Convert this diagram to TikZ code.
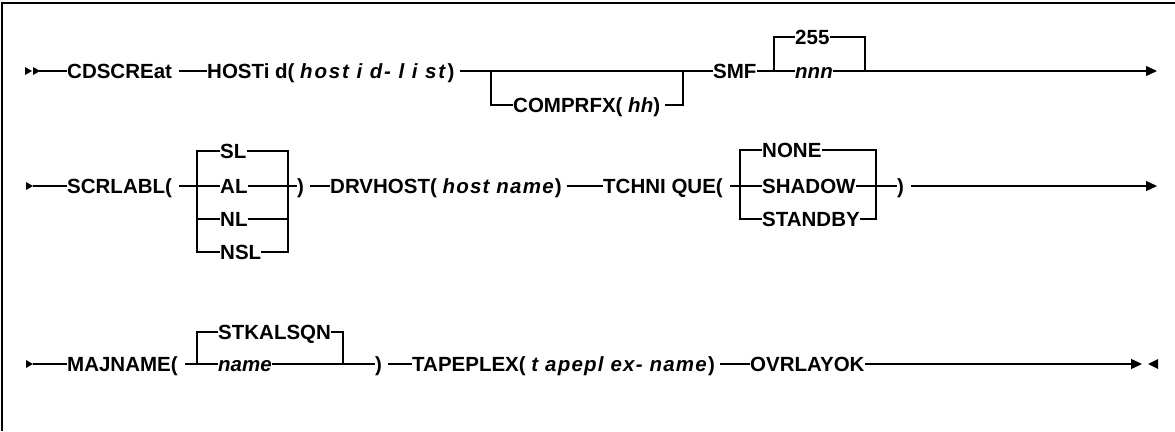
\documentclass[tikz,border=0pt]{standalone}
\usepackage{fontspec}
\setmainfont{Liberation Sans}
\usetikzlibrary{arrows.meta}

% small filled start mark of a rail line
\newcommand{\railstart}[2]{\fill (#1,#2-4) -- (#1+7,#2) -- (#1,#2+4) -- cycle;}
% spread italic variable text
\newcommand{\varspread}[2]{{\addfontfeature{LetterSpace=#1}\textit{#2}}}

\begin{document}
\begin{tikzpicture}[x=1pt, y=-1pt, line join=miter,
  kw/.style={font=\fontsize{20.5}{24}\selectfont\bfseries, inner sep=0pt,
             text height=15pt, text depth=0pt, anchor=west},
  rail/.style={line width=1.2pt},
  ends/.style={rail, -{Triangle[length=11pt, width=10pt]}},
  ]

\useasboundingbox (0,0) rectangle (1175,431);
\draw[line width=1.6pt] (2,431) -- (2,3) -- (1175,3);

% rail heights
\def\ya{71}
\def\yb{186}
\def\yc{364}

% ======================================================================
% ROW 1: CDSCREat HOSTid(...) [COMPRFX(hh)] SMF {255|nnn}
% ======================================================================
\railstart{25}{\ya}
\railstart{33}{\ya}
\coordinate (s1) at (39,\ya);
\node[kw] (cds)  at (67,\ya)  {CDSCREat};
\node[kw] (host) at (207,\ya) {HOSTi d( \varspread{9}{host i d- l i st})};
\node[kw] (comp) at (513,105) {COMPRFX( \textit{hh})};
\node[kw] (smf)  at (713,\ya) {SMF};
\node[kw] (d255) at (795,37)  {255};
\node[kw] (nnn)  at (795,\ya) {\textit{nnn}};
\coordinate (cL) at (491,\ya);
\coordinate (cR) at (683,\ya);
\coordinate (nL) at (774,\ya);
\coordinate (nR) at (865,\ya);
\coordinate (e1) at (1157,\ya);

\draw[rail] (s1) -- (cds.west);
\draw[rail] ([xshift=7pt]cds.east) -- (host.west);
\draw[rail] ([xshift=5pt]host.east) -- (smf.west);
\draw[rail] (cL) |- (comp.west);
\draw[rail] ([xshift=5pt]comp.east) -| (cR);
\draw[rail] (smf.east) -- (nnn.west);
\draw[rail] (nL) |- (d255.west);
\draw[rail] (d255.east) -| (nR);
\draw[ends] (nnn.east) -- (e1);

% ======================================================================
% ROW 2: SCRLABL(...) DRVHOST(...) TCHNIQUE(...)
% ======================================================================
\railstart{26}{\yb}
\coordinate (s2) at (33,\yb);
\node[kw] (scr) at (67,\yb) {SCRLABL(};
\foreach \t/\yy [count=\i] in {SL/151, AL/\yb, NL/219, NSL/252}
  \node[kw] (lab\i) at (220,\yy) {\t};
\coordinate (sL) at (197,\yb);
\coordinate (sR) at (288,\yb);
\node[kw] (scrx) at (297,\yb) {)};
\node[kw] (drv)  at (330,\yb) {DRVHOST( \varspread{6}{host name})};
\node[kw] (tch)  at (603,\yb) {TCHNI QUE(};
\foreach \t/\yy [count=\i] in {NONE/150, SHADOW/\yb, STANDBY/219}
  \node[kw] (tec\i) at (762,\yy) {\t};
\coordinate (tL) at (740,\yb);
\coordinate (tR) at (876,\yb);
\node[kw] (tchx) at (897,\yb) {)};
\coordinate (e2) at (1157,\yb);

\draw[rail] (s2) -- (scr.west);
\draw[rail] ([xshift=7pt]scr.east) -- (lab2.west);
\draw[rail] (lab1.west) -| (sL |- lab4.west) -- (lab4.west);
\draw[rail] (sL |- lab3.west) -- (lab3.west);
\draw[rail] (lab1.east) -| (sR |- lab4.east) -- (lab4.east);
\draw[rail] (lab3.east) -- (sR |- lab3.east);
\draw[rail] (lab2.east) -- (scrx.west);
\draw[rail] ([xshift=6pt]scrx.east) -- (drv.west);
\draw[rail] ([xshift=5pt]drv.east) -- (tch.west);
\draw[rail] ([xshift=7pt]tch.east) -- (tec2.west);
\draw[rail] (tec1.west) -| (tL |- tec3.west) -- (tec3.west);
\draw[rail] (tec1.east) -| (tR |- tec3.east) -- (tec3.east);
\draw[rail] (tec2.east) -- (tchx.west);
\draw[ends] ([xshift=7pt]tchx.east) -- (e2);

% ======================================================================
% ROW 3: MAJNAME(...) TAPEPLEX(...) OVRLAYOK
% ======================================================================
\railstart{26}{\yc}
\coordinate (s3) at (33,\yc);
\node[kw] (maj)  at (67,\yc)  {MAJNAME(};
\node[kw] (stk)  at (218,332) {STKALSQN};
\node[kw] (nam)  at (218,\yc) {\textit{name}};
\coordinate (mL) at (197,\yc);
\coordinate (mR) at (343,\yc);
\node[kw] (majx) at (375,\yc) {)};
\node[kw] (tpx)  at (412,\yc) {TAPEPLEX( \varspread{6}{t apepl ex- name})};
\node[kw] (ovr)  at (750,\yc) {OVRLAYOK};
\coordinate (e3) at (1142,\yc);

\draw[rail] (s3) -- (maj.west);
\draw[rail] ([xshift=7pt]maj.east) -- (nam.west);
\draw[rail] (stk.west) -| (mL);
\draw[rail] (stk.east) -| (mR);
\draw[rail] (nam.east) -- (majx.west);
\draw[rail] ([xshift=6pt]majx.east) -- (tpx.west);
\draw[rail] ([xshift=5pt]tpx.east) -- (ovr.west);
\draw[ends] (ovr.east) -- (e3);
\fill (1158,\yc-5) -- (1148,\yc) -- (1158,\yc+5) -- cycle;

\end{tikzpicture}
\end{document}
